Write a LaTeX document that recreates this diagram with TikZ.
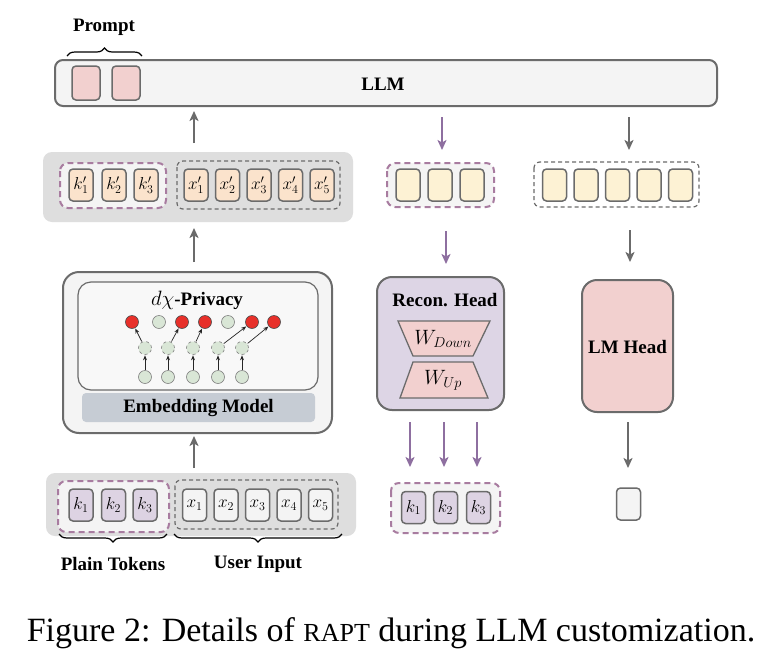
\documentclass[tikz,border=0pt]{standalone}
\usepackage{fontspec}
\setmainfont{Liberation Serif}
\usetikzlibrary{arrows.meta,decorations.pathreplacing}
\definecolor{edgeg}{HTML}{6B6B6B}
\definecolor{barfill}{HTML}{F4F4F4}
\definecolor{bandg}{HTML}{DEDEDE}
\definecolor{pinkf}{HTML}{F2D0CF}
\definecolor{peach}{HTML}{FBE3CC}
\definecolor{lyellow}{HTML}{FDF2D4}
\definecolor{lpurple}{HTML}{DDD3E3}
\definecolor{reconf}{HTML}{DDD5E5}
\definecolor{embbar}{HTML}{C6CCD4}
\definecolor{purpd}{HTML}{A87CA0}
\definecolor{purpa}{HTML}{8E6FA0}
\definecolor{redc}{HTML}{E8302A}
\definecolor{greenc}{HTML}{D9E6D6}
\tikzset{
  tok/.style={draw=edgeg, line width=1.5pt, rounded corners=4pt, minimum width=24pt, minimum height=32pt, inner sep=0pt, font=\fontsize{18.5}{18.5}\selectfont},
  band/.style={fill=bandg, draw=none, rounded corners=9pt},
  pdash/.style={draw=purpd, line width=2pt, dash pattern=on 6pt off 4pt, rounded corners=8pt},
  gdash/.style={draw=edgeg, line width=1.2pt, dash pattern=on 4pt off 3pt, rounded corners=6pt},
  lbl/.style={font=\fontsize{19}{19}\selectfont\bfseries, inner sep=0pt},
  garrow/.style={draw=edgeg, line width=2pt, -{Stealth[length=10pt,width=9pt,inset=2.5pt]}},
  parrow/.style={draw=purpa, line width=2pt, -{Stealth[length=10pt,width=9pt,inset=2.5pt]}},
  redn/.style={circle, fill=redc, draw=black!70, line width=0.6pt, minimum size=13pt, inner sep=0pt},
  grn/.style={circle, fill=greenc, draw=gray, line width=0.6pt, minimum size=13pt, inner sep=0pt},
  grnd/.style={grn, dashed},
  sarr/.style={-{Stealth[length=5pt,width=4pt]}, line width=0.7pt, draw=black!85, shorten >=0.5pt, shorten <=0.5pt},
  brc/.style={decorate, decoration={brace, amplitude=8pt}, line width=1.2pt},
}
\begin{document}
\begin{tikzpicture}[x=1pt,y=-1pt]
\useasboundingbox[fill=white] (0,0) rectangle (766,672);

% LLM bar
\draw[fill=barfill, draw=edgeg, line width=2pt, rounded corners=8pt] (55,60) rectangle (717,106);
\node[lbl] (llm) at (383,84) {LLM};
\node[tok, fill=pinkf, minimum width=28pt, minimum height=34pt] (p1) at (86,83) {};
\node[tok, fill=pinkf, minimum width=28pt, minimum height=34pt] (p2) at (126,83) {};
\draw[brc] (67,56) -- (142,56);
\node[lbl] (prompt) at (104,27) {Prompt};

% top-left band
\fill[band] (43,152) rectangle (353,222);
\draw[pdash, fill=barfill] (60,163) rectangle (166,208);
\draw[gdash] (177,161) rectangle (340,209);
\node[tok, fill=peach] (kp1) at (81,185) {$k'_1$};
\node[tok, fill=peach] (kp2) at (114,185) {$k'_2$};
\node[tok, fill=peach] (kp3) at (146,185) {$k'_3$};
\node[tok, fill=peach] (xp1) at (196,185) {$x'_1$};
\node[tok, fill=peach] (xp2) at (227.5,185) {$x'_2$};
\node[tok, fill=peach] (xp3) at (259,185) {$x'_3$};
\node[tok, fill=peach] (xp4) at (290.5,185) {$x'_4$};
\node[tok, fill=peach] (xp5) at (322,185) {$x'_5$};

% middle top
\draw[pdash, fill=barfill] (387,163) rectangle (494,207);
\node[tok, fill=lyellow] (m1) at (408,185) {};
\node[tok, fill=lyellow] (m2) at (440,185) {};
\node[tok, fill=lyellow] (m3) at (472,185) {};

% right top
\draw[gdash] (534,162) rectangle (699,207);
\node[tok, fill=lyellow] (r1) at (554.5,185) {};
\node[tok, fill=lyellow] (r2) at (586,185) {};
\node[tok, fill=lyellow] (r3) at (617.5,185) {};
\node[tok, fill=lyellow] (r4) at (649,185) {};
\node[tok, fill=lyellow] (r5) at (680.5,185) {};

% embedding block
\draw[fill=barfill, draw=edgeg, line width=2pt, rounded corners=16pt] (63,272) rectangle (332,433);
\draw[fill=barfill!60!white, draw=edgeg, line width=1.2pt, rounded corners=13pt] (78,282) rectangle (318,390);
\node[fill=embbar, rounded corners=4pt, minimum width=233pt, minimum height=29pt, inner sep=0pt] (emb) at (198.5,407.5) {};
\node[lbl] at (emb) {Embedding Model};
\node[lbl] (priv) at (197,300) {\fontsize{21}{21}\selectfont$d\chi$\fontsize{19}{19}\selectfont-Privacy};

\node[redn] (t1) at (132,322) {};
\node[grn]  (t2) at (159,322) {};
\node[redn] (t3) at (182,322) {};
\node[redn] (t4) at (205,322) {};
\node[grn]  (t5) at (228,322) {};
\node[redn] (t6) at (252,322) {};
\node[redn] (t7) at (274,322) {};
\foreach \i/\x in {1/145,2/168,3/193,4/218,5/242}{
  \node[grnd] (d\i) at (\x,348) {};
  \node[grn] (b\i) at (\x,377) {};
  \draw[sarr] (b\i) -- (d\i);
}
\draw[sarr] (d1) -- (t1);
\draw[sarr] (d2) -- (t3);
\draw[sarr] (d3) -- (t4);
\draw[sarr] (d4) -- (t6);
\draw[sarr] (d5) -- (t7);

% recon head
\draw[fill=reconf, draw=edgeg, line width=2pt, rounded corners=15pt] (377,277) rectangle (504,410);
\node[lbl] (recon) at (445,300) {Recon. Head};
\draw[fill=pinkf, draw=edgeg, line width=1.3pt] (398,321) -- (490,321) -- (473,356) -- (413,356) -- cycle;
\draw[fill=pinkf, draw=edgeg, line width=1.3pt] (413,362) -- (473,362) -- (488,398) -- (400,398) -- cycle;
\node[font=\fontsize{21}{21}\selectfont] (wd) at (443,339) {$W_{Down}$};
\node[font=\fontsize{21}{21}\selectfont] (wu) at (443,380) {$W_{Up}$};

% LM head
\draw[fill=pinkf, draw=edgeg, line width=2pt, rounded corners=15pt] (582,280) rectangle (673,412);
\node[lbl] (lmh) at (627.5,347) {LM Head};

% bottom left band
\fill[band] (46,473) rectangle (356,536);
\draw[pdash, fill=barfill] (58,481) rectangle (169,532);
\draw[gdash] (175,480) rectangle (338,529);
\node[tok, fill=lpurple] (k1) at (81,505) {$k_1$};
\node[tok, fill=lpurple] (k2) at (113.5,505) {$k_2$};
\node[tok, fill=lpurple] (k3) at (145,505) {$k_3$};
\node[tok, fill=barfill] (x1) at (194.5,505) {$x_1$};
\node[tok, fill=barfill] (x2) at (226,505) {$x_2$};
\node[tok, fill=barfill] (x3) at (257.5,505) {$x_3$};
\node[tok, fill=barfill] (x4) at (289,505) {$x_4$};
\node[tok, fill=barfill] (x5) at (320.5,505) {$x_5$};
\draw[brc] (167,534) -- (59,534);
\draw[brc] (342,534) -- (174,534);
\node[lbl] (plain) at (113,564) {Plain Tokens};
\node[lbl] (user) at (258,564) {User Input};

% bottom middle
\draw[pdash, fill=barfill] (391,483) rectangle (500,533);
\node[tok, fill=lpurple] (o1) at (413.5,507.5) {$k_1$};
\node[tok, fill=lpurple] (o2) at (445.5,507.5) {$k_2$};
\node[tok, fill=lpurple] (o3) at (478.5,507.5) {$k_3$};
\node[tok, fill=barfill] (out) at (628.5,504) {};

% arrows
\coordinate (a1s) at (194,143); \coordinate (a1e) at (194,111);
\draw[garrow] (a1s) -- (a1e);
\coordinate (a2s) at (194,262); \coordinate (a2e) at (194,228);
\draw[garrow] (a2s) -- (a2e);
\coordinate (a3s) at (194,468); \coordinate (a3e) at (194,436);
\draw[garrow] (a3s) -- (a3e);
\coordinate (a4s) at (442,117); \coordinate (a4e) at (442,150);
\draw[parrow] (a4s) -- (a4e);
\coordinate (a5s) at (629,117); \coordinate (a5e) at (629,150);
\draw[garrow, line width=1.6pt] (a5s) -- (a5e);
\coordinate (a6s) at (446,231); \coordinate (a6e) at (446,264);
\draw[parrow] (a6s) -- (a6e);
\coordinate (a7s) at (630,230); \coordinate (a7e) at (630,262);
\draw[garrow, line width=1.6pt] (a7s) -- (a7e);
\foreach \x [count=\i] in {410,444,477}{
  \coordinate (b\i s) at (\x,422); \coordinate (b\i e) at (\x,467);
  \draw[parrow] (b\i s) -- (b\i e);
}
\coordinate (a8s) at (628,422); \coordinate (a8e) at (628,468);
\draw[garrow] (a8s) -- (a8e);

% caption
\node[font=\fontsize{34}{34}\selectfont, inner sep=0pt] (cap) at (391,633) {Figure 2: Details of {\fontsize{26}{26}\selectfont RAPT} during LLM customization.};
\end{tikzpicture}
\end{document}
